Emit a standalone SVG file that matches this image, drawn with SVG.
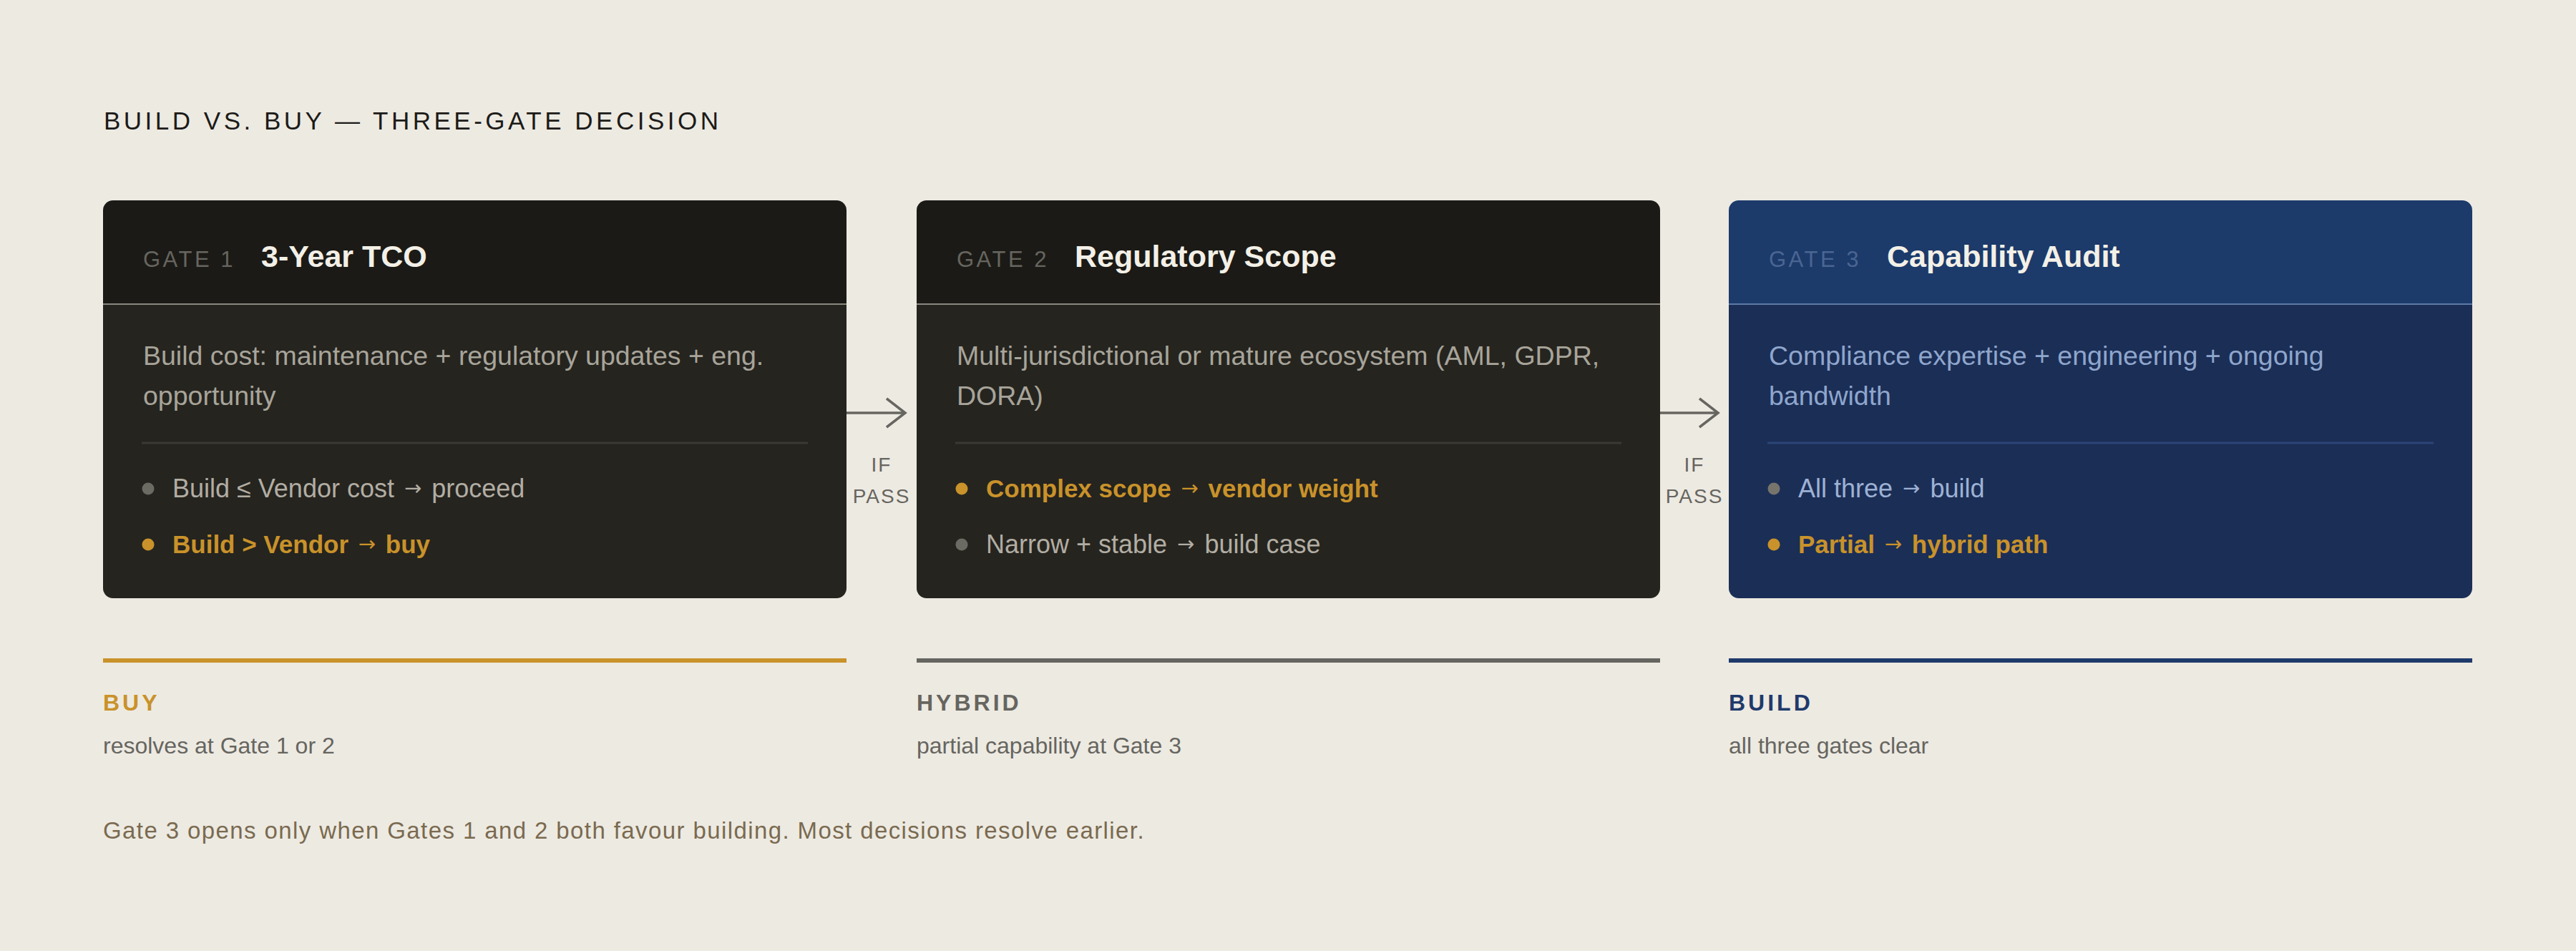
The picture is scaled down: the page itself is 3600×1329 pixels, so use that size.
<svg xmlns="http://www.w3.org/2000/svg" width="3600" height="1329" viewBox="0 0 3600 1329">
<defs>
<style>
text{font-family:"Liberation Sans",Arial,sans-serif}
.ttl{font-size:35px;letter-spacing:4.5px;fill:#1c1b18}
.gate{font-size:31px;letter-spacing:3.5px}
.head{font-size:43px;font-weight:bold;fill:#f3f0e7}
.desc{font-size:37.5px}
.bul{font-size:36px}
.bold{font-weight:bold;fill:#c9922a;font-size:35px}
.ar{font-family:"DejaVu Sans",sans-serif;font-size:29px;font-weight:normal;baseline-shift:3px}
.pass{font-size:28px;letter-spacing:2px;fill:#66655f;text-anchor:middle}
.lab{font-size:32px;font-weight:bold;letter-spacing:4px}
.sub{font-size:32px;fill:#66655f}
.note{font-size:33px;letter-spacing:1.4px;fill:#7a6a50}
.conn{stroke:#66655f;stroke-width:3.5;fill:none}
</style>
<marker id="chev" markerWidth="30" markerHeight="44" refX="27" refY="22" orient="auto" markerUnits="userSpaceOnUse">
<path d="M1,2 L27,22 L1,42" fill="none" stroke="#66655f" stroke-width="3.5"/>
</marker>
</defs>
<rect width="3600" height="1329" fill="#edeae2"/>
<text class="ttl" x="145" y="181">BUILD VS. BUY — THREE-GATE DECISION</text>

<g id="gate1" transform="translate(144,280)">
<path d="M0,145 V14 a14,14 0 0 1 14,-14 H1025 a14,14 0 0 1 14,14 V145 Z" fill="#1b1a16"/>
<path d="M0,145 H1039 V542 a14,14 0 0 1 -14,14 H14 a14,14 0 0 1 -14,-14 Z" fill="#25241f"/>
<line x1="0" y1="145" x2="1039" y2="145" stroke="#8a877e" stroke-width="2"/>
<text class="gate" x="56" y="93" fill="#66655f">GATE 1</text>
<text class="head" x="221" y="93">3-Year TCO</text>
<text class="desc" x="56" y="229.5" fill="#a8a49a">Build cost: maintenance + regulatory updates + eng.</text>
<text class="desc" x="56" y="286" fill="#a8a49a">opportunity</text>
<line x1="54" y1="339" x2="985" y2="339" stroke="#3a3933" stroke-width="3"/>
<circle cx="63" cy="403" r="8.5" fill="#6b6a63"/>
<text class="bul" x="97" y="415" fill="#b2ada3">Build ≤ Vendor cost <tspan class="ar" dx="4">→</tspan> <tspan dx="4">proceed</tspan></text>
<circle cx="63" cy="481" r="8.5" fill="#c9922a"/>
<text class="bul bold" x="97" y="493">Build &gt; Vendor <tspan class="ar" dx="4">→</tspan> <tspan dx="4">buy</tspan></text>
</g>

<g id="gate2" transform="translate(1281,280)">
<path d="M0,145 V14 a14,14 0 0 1 14,-14 H1025 a14,14 0 0 1 14,14 V145 Z" fill="#1b1a16"/>
<path d="M0,145 H1039 V542 a14,14 0 0 1 -14,14 H14 a14,14 0 0 1 -14,-14 Z" fill="#25241f"/>
<line x1="0" y1="145" x2="1039" y2="145" stroke="#8a877e" stroke-width="2"/>
<text class="gate" x="56" y="93" fill="#66655f">GATE 2</text>
<text class="head" x="221" y="93">Regulatory Scope</text>
<text class="desc" x="56" y="229.5" fill="#a8a49a">Multi-jurisdictional or mature ecosystem (AML, GDPR,</text>
<text class="desc" x="56" y="286" fill="#a8a49a">DORA)</text>
<line x1="54" y1="339" x2="985" y2="339" stroke="#3a3933" stroke-width="3"/>
<circle cx="63" cy="403" r="8.5" fill="#c9922a"/>
<text class="bul bold" x="97" y="415">Complex scope <tspan class="ar" dx="4">→</tspan> <tspan dx="4">vendor weight</tspan></text>
<circle cx="63" cy="481" r="8.5" fill="#6b6a63"/>
<text class="bul" x="97" y="493" fill="#b2ada3">Narrow + stable <tspan class="ar" dx="4">→</tspan> <tspan dx="4">build case</tspan></text>
</g>

<g id="gate3" transform="translate(2416,280)">
<path d="M0,145 V14 a14,14 0 0 1 14,-14 H1025 a14,14 0 0 1 14,14 V145 Z" fill="#1c3a6a"/>
<path d="M0,145 H1039 V542 a14,14 0 0 1 -14,14 H14 a14,14 0 0 1 -14,-14 Z" fill="#1b2e56"/>
<line x1="0" y1="145" x2="1039" y2="145" stroke="#5d7aa6" stroke-width="2"/>
<text class="gate" x="56" y="93" fill="#4a6592">GATE 3</text>
<text class="head" x="221" y="93">Capability Audit</text>
<text class="desc" x="56" y="229.5" fill="#8fa6cc">Compliance expertise + engineering + ongoing</text>
<text class="desc" x="56" y="286" fill="#8fa6cc">bandwidth</text>
<line x1="54" y1="339" x2="985" y2="339" stroke="#2a4576" stroke-width="3"/>
<circle cx="63" cy="403" r="8.5" fill="#77746c"/>
<text class="bul" x="97" y="415" fill="#9db1d4">All three <tspan class="ar" dx="4">→</tspan> <tspan dx="4">build</tspan></text>
<circle cx="63" cy="481" r="8.5" fill="#c9922a"/>
<text class="bul bold" x="97" y="493">Partial <tspan class="ar" dx="4">→</tspan> <tspan dx="4">hybrid path</tspan></text>
</g>

<g id="connectors">
<line class="conn" x1="1183" y1="577" x2="1265" y2="577" marker-end="url(#chev)"/>
<text class="pass" x="1232" y="659">IF</text>
<text class="pass" x="1232" y="703">PASS</text>
<line class="conn" x1="2320" y1="577" x2="2401" y2="577" marker-end="url(#chev)"/>
<text class="pass" x="2368" y="659">IF</text>
<text class="pass" x="2368" y="703">PASS</text>
</g>

<g id="outcome-buy">
<rect x="144" y="920" width="1039" height="6" fill="#c9922a"/>
<text class="lab" x="144" y="993" fill="#c9922a">BUY</text>
<text class="sub" x="144" y="1053">resolves at Gate 1 or 2</text>
</g>
<g id="outcome-hybrid">
<rect x="1281" y="920" width="1039" height="6" fill="#66655f"/>
<text class="lab" x="1281" y="993" fill="#66655f">HYBRID</text>
<text class="sub" x="1281" y="1053">partial capability at Gate 3</text>
</g>
<g id="outcome-build">
<rect x="2416" y="920" width="1039" height="6" fill="#1f3a6b"/>
<text class="lab" x="2416" y="993" fill="#1f3a6b">BUILD</text>
<text class="sub" x="2416" y="1053">all three gates clear</text>
</g>

<text class="note" x="144" y="1172">Gate 3 opens only when Gates 1 and 2 both favour building. Most decisions resolve earlier.</text>
</svg>
